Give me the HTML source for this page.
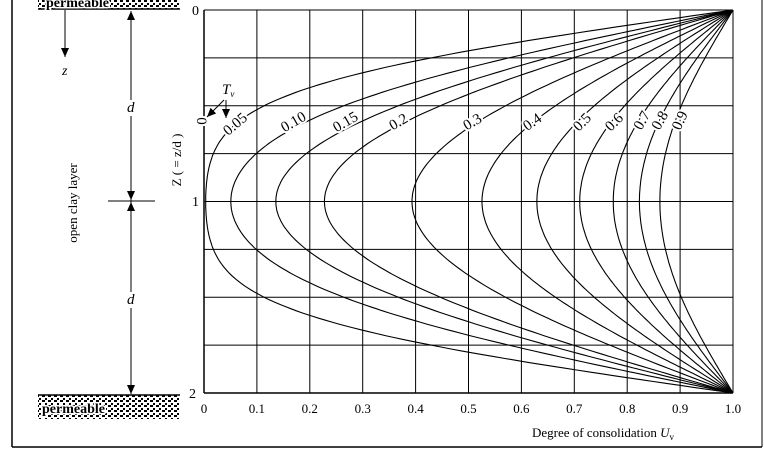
<!DOCTYPE html>
<html><head><meta charset="utf-8"><style>
html,body{margin:0;padding:0;background:#fff;}
svg{display:block;font-family:"Liberation Serif",serif;}
</style></head><body>
<svg id="s" width="764" height="452" viewBox="0 0 764 452" xmlns="http://www.w3.org/2000/svg">
<defs>
<pattern id="dots" width="6" height="5" patternUnits="userSpaceOnUse">
<rect width="6" height="5" fill="#fff"/><rect x="0" y="0" width="3" height="2" fill="#000"/><rect x="3" y="3" width="2" height="2" fill="#000"/>
</pattern>
<marker id="ah" markerWidth="10" markerHeight="8" refX="9" refY="4" orient="auto" markerUnits="userSpaceOnUse"><path d="M0,0 L9,4 L0,8 Z" fill="#000"/></marker>
</defs>
<line x1="12" y1="0" x2="12" y2="447" stroke="#000" stroke-width="1.5"/>
<line x1="12" y1="447" x2="762" y2="447" stroke="#000" stroke-width="1.5"/>
<line x1="762" y1="0" x2="762" y2="447" stroke="#000" stroke-width="1"/>
<rect x="38" y="0" width="142" height="9" fill="url(#dots)"/>
<line x1="38" y1="9" x2="180" y2="9" stroke="#000" stroke-width="1.5"/>
<text x="46" y="7" font-size="14" font-weight="bold" stroke="#fff" stroke-width="3" paint-order="stroke">permeable</text>
<rect x="38" y="395" width="142" height="24" fill="url(#dots)"/>
<line x1="38" y1="395" x2="180" y2="395" stroke="#000" stroke-width="1.5"/>
<text x="42" y="413" font-size="14" font-weight="bold" stroke="#fff" stroke-width="3" paint-order="stroke">permeable</text>
<line x1="65" y1="10" x2="65" y2="57" stroke="#000" marker-end="url(#ah)"/>
<text x="62" y="75" font-size="14" font-style="italic">z</text>
<line x1="131" y1="100" x2="131" y2="11" stroke="#000" marker-end="url(#ah)"/>
<line x1="131" y1="116" x2="131" y2="292" stroke="#000"/>
<line x1="131" y1="308" x2="131" y2="394" stroke="#000" marker-end="url(#ah)"/>
<line x1="131" y1="215" x2="131" y2="202" stroke="#000" marker-end="url(#ah)"/>
<line x1="131" y1="187" x2="131" y2="200" stroke="#000" marker-end="url(#ah)"/>
<line x1="108" y1="201" x2="155" y2="201" stroke="#000"/>
<text x="127" y="112" font-size="15" font-style="italic">d</text>
<text x="127" y="304" font-size="15" font-style="italic">d</text>
<text transform="translate(77,203) rotate(-90)" font-size="13" text-anchor="middle">open clay  layer</text>
<text transform="translate(181,160) rotate(-90)" font-size="13" text-anchor="middle">Z ( = z/d )</text>
<g id="plot"></g>
<text x="192" y="15" font-size="14">0</text>
<text x="192" y="206" font-size="14">1</text>
<text x="189" y="398" font-size="14">2</text>
<text x="532" y="437" font-size="13">Degree of consolidation  <tspan font-style="italic">U</tspan><tspan font-size="9" dy="3">v</tspan></text>
<text x="222" y="94" font-size="15" font-style="italic">T<tspan font-size="9" dy="3">v</tspan></text>
<line x1="224" y1="100" x2="207" y2="117" stroke="#000" marker-end="url(#ah)"/>
<line x1="226" y1="100" x2="226" y2="118" stroke="#000" marker-end="url(#ah)"/>
</svg>
<script>
(function(){
var g=document.getElementById('plot'),NS='http://www.w3.org/2000/svg';
var X0=204,X1=733,Y0=10,Y1=393;
function px(u){return X0+u*(X1-X0);} function py(z){return Y0+z/2*(Y1-Y0);}
function el(n,a,t){var e=document.createElementNS(NS,n);for(var k in a)e.setAttribute(k,a[k]);if(t!=null)e.textContent=t;g.appendChild(e);return e;}
for(var i=0;i<=10;i++)el('line',{x1:px(i/10),y1:Y0,x2:px(i/10),y2:Y1,stroke:'#000','stroke-width':1});
for(var j=0;j<=8;j++)el('line',{x1:X0,y1:Y0+j*(Y1-Y0)/8,x2:X1,y2:Y0+j*(Y1-Y0)/8,stroke:'#000','stroke-width':1});
el('line',{x1:X0,y1:Y0,x2:X0,y2:Y1,stroke:'#000','stroke-width':1.5});
el('line',{x1:X0,y1:Y1,x2:X1,y2:Y1,stroke:'#000','stroke-width':1.5});
var labs=['0','0.1','0.2','0.3','0.4','0.5','0.6','0.7','0.8','0.9','1.0'];
for(var i=0;i<=10;i++)el('text',{x:px(i/10),y:413,'font-size':13,'text-anchor':'middle'},labs[i]);
function U(z,T){var s=0;for(var m=0;m<200;m++){var M=Math.PI*(2*m+1)/2;s+=2/M*Math.sin(M*z)*Math.exp(-M*M*T);}return 1-s;}
var Ts=[0.05,0.1,0.15,0.2,0.3,0.4,0.5,0.6,0.7,0.8,0.9];
Ts.forEach(function(T){var d='';for(var k=0;k<=200;k++){var z=k/100;var u=Math.min(1,Math.max(0,U(z,T)));if(k==0||k==200)u=1;d+=(k?'L':'M')+px(u).toFixed(1)+','+py(z).toFixed(1);}
el('path',{d:d,fill:'none',stroke:'#000','stroke-width':1.1});});
var L=[['0',203,121,-90],['0.05',236,125,-40],['0.10',294,123,-30],['0.15',346,123,-30],['0.2',399,123,-30],['0.3',473,123,-30],['0.4',533,123,-35],['0.5',583,123,-45],['0.6',615,123,-45],['0.7',643,121,-60],['0.8',661,121,-60],['0.9',681,121,-65]];
L.forEach(function(l){el('text',{transform:'translate('+l[1]+','+l[2]+') rotate('+l[3]+')','font-size':15,'text-anchor':'middle','dominant-baseline':'middle',stroke:'#fff','stroke-width':4,'paint-order':'stroke',fill:'#000'},l[0]);});
})();
</script>
</body></html>
